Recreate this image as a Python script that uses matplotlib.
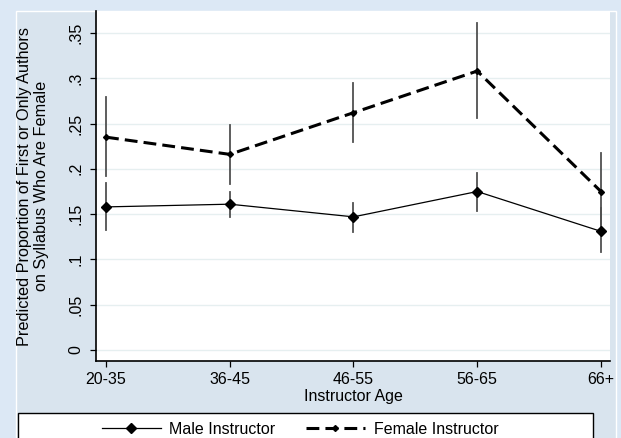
import matplotlib
matplotlib.use("Agg")
import matplotlib.pyplot as plt
from matplotlib.patches import Rectangle

plt.rcParams['font.family'] = ['Liberation Sans', 'DejaVu Sans']

# ---- data ----
age_groups = ["20-35", "36-45", "46-55", "56-65", "66+"]
male_est = [0.158, 0.161, 0.147, 0.175, 0.131]
male_lo = [0.132, 0.147, 0.130, 0.154, 0.108]
male_hi = [0.184, 0.175, 0.162, 0.195, 0.157]
female_est = [0.235, 0.216, 0.262, 0.308, 0.175]
female_lo = [0.192, 0.183, 0.230, 0.256, 0.128]
female_hi = [0.279, 0.248, 0.295, 0.361, 0.217]
y_ticks = [0, 0.05, 0.1, 0.15, 0.2, 0.25, 0.3, 0.35]
y_ticklabels = ["0", ".05", ".1", ".15", ".2", ".25", ".3", ".35"]

FS = 11.5
W, H = 621, 438
fig = plt.figure(figsize=(W / 100, H / 100), dpi=100, facecolor="#dce8f5")

# graph region
fig.patches.append(Rectangle((16 / W, -0.05), (616 - 16) / W, (438 - 11) / H + 0.05,
                             transform=fig.transFigure, facecolor="#d9e4ee",
                             edgecolor="white", lw=1.0, zorder=-10))

ax = fig.add_axes([96 / W, (H - 361) / H, (610 - 96) / W, (361 - 11) / H])
ax.set_zorder(1)
ax.set_facecolor("white")
x = list(range(len(age_groups)))

# error bars
for xi, lo, hi in zip(x, male_lo, male_hi):
    ax.plot([xi, xi], [lo, hi], color="#505050", lw=1.3, zorder=2)
for xi, lo, hi in zip(x, female_lo, female_hi):
    ax.plot([xi, xi], [lo, hi], color="#505050", lw=1.3, zorder=2)

male_line, = ax.plot(x, male_est, color="black", lw=0.9, marker="D", ms=5.2,
                     label="Male Instructor", zorder=3)
female_line, = ax.plot(x, female_est, color="black", lw=2.2, linestyle=(0, (4.2, 2.0)),
                       marker="D", ms=3.0, label="Female Instructor", zorder=3)

ax.set_xlim(-0.081, 4.073)
ax.set_ylim(-0.01215, 0.3743)
ax.set_xticks(x)
ax.set_xticklabels(age_groups, fontsize=FS)
ax.set_yticks(y_ticks)
ax.set_yticklabels(y_ticklabels, fontsize=FS)
plt.setp(ax.get_yticklabels(), rotation=90, va="center")
ax.tick_params(axis="both", length=4.3, width=0.9, color="black")
ax.tick_params(axis="x", pad=3.5)
ax.tick_params(axis="y", pad=5)

ax.grid(axis="y", color="#e6eff0", lw=1.0)
ax.set_axisbelow(True)
for s in ["top", "right"]:
    ax.spines[s].set_visible(False)
for s in ["left", "bottom"]:
    ax.spines[s].set_linewidth(1.2)
    ax.spines[s].set_color("black")

ax.set_xlabel("Instructor Age", fontsize=FS)
ax.xaxis.set_label_coords(0.5, -0.08)
ax.set_ylabel("Predicted Proportion of First or Only Authors\non Syllabus Who Are Female",
              fontsize=11.7, linespacing=1.12)
ax.yaxis.set_label_coords(-0.092, 0.5)

# legend frame
fig.patches.append(Rectangle((18 / W, -0.05), (593 - 18) / W, (438 - 413) / H + 0.05,
                             transform=fig.transFigure, facecolor="white",
                             edgecolor="black", lw=1.0, zorder=1))
leg = fig.legend(handles=[male_line, female_line], loc="center",
                 bbox_to_anchor=(300 / W, 1 - 429 / H), ncol=2, frameon=False,
                 fontsize=FS, handlelength=3.7, handletextpad=0.55, columnspacing=1.9,
                 borderpad=0, borderaxespad=0)
leg.set_zorder(5)

fig.savefig("out.png", dpi=100, facecolor=fig.get_facecolor())
